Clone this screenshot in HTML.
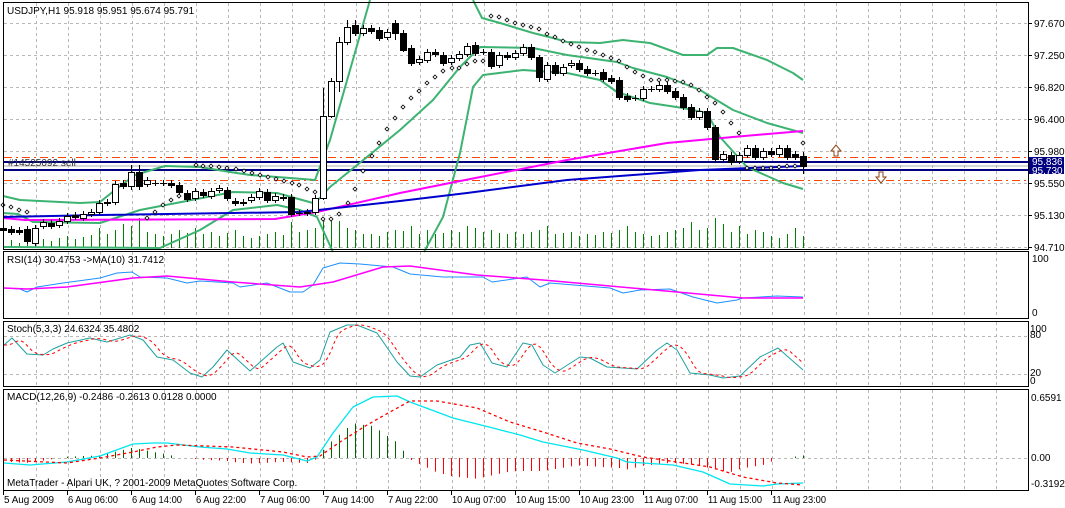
<!DOCTYPE html>
<html><head><meta charset="utf-8"><style>
html,body{margin:0;padding:0;background:#fff;}
svg{display:block;font-family:"Liberation Sans",sans-serif;font-size:10px;}
</style></head><body>
<svg id="s" width="1065" height="508" xmlns="http://www.w3.org/2000/svg">
<rect width="1065" height="508" fill="#fff"/>
<g id="grid"></g>
<g id="g"></g>
<g id="frames" fill="none" stroke="#000" stroke-width="1">
<rect x="3.5" y="2.5" width="1025" height="247"/>
<rect x="3.5" y="251.5" width="1025" height="67"/>
<rect x="3.5" y="321.5" width="1025" height="65"/>
<rect x="3.5" y="389.5" width="1025" height="101"/>
</g>
<g fill="#000">
<text x="7" y="14">USDJPY,H1  95.918 95.951 95.674 95.791</text>
<text x="7" y="263">RSI(14) 30.4753  -&gt;MA(10) 31.7412</text>
<text x="7" y="332">Stoch(5,3,3) 24.6324 35.4802</text>
<text x="7" y="400">MACD(12,26,9) -0.2486 -0.2613 0.0128 0.0000</text>
<text x="7" y="486">MetaTrader - Alpari UK, ? 2001-2009 MetaQuotes Software Corp.</text>
<text x="8" y="166" fill="#333">#14525092 sell</text>
</g>
<g id="ax" fill="#000"></g>
</svg>
<script>
var NS="http://www.w3.org/2000/svg";
function el(p,t,a,txt){var e=document.createElementNS(NS,t);for(var k in a)e.setAttribute(k,a[k]);if(txt!=null)e.textContent=txt;document.getElementById(p).appendChild(e);return e;}
function ln(p,x1,y1,x2,y2,c,w,d){var a={x1:x1,y1:y1,x2:x2,y2:y2,stroke:c,"stroke-width":w||1};if(d)a["stroke-dasharray"]=d;return el(p,"line",a);}
function pl(p,pts,c,w,d){var s=pts.map(function(q){return q[0]+","+q[1];}).join(" ");var a={points:s,fill:"none",stroke:c,"stroke-width":w||1,"stroke-linejoin":"round"};if(d)a["stroke-dasharray"]=d;return el(p,"polyline",a);}
function interp(pts,x){if(x<=pts[0][0])return pts[0][1];for(var i=1;i<pts.length;i++){if(x<=pts[i][0]){var a=pts[i-1],b=pts[i];return a[1]+(b[1]-a[1])*(x-a[0])/(b[0]-a[0]);}}return pts[pts.length-1][1];}
var gc="#b8b8b8";
for(var k=1;k<32;k++){var x=4+32*k;[[3,249],[252,318],[322,386],[390,490]].forEach(function(r){ln("grid",x+.5,r[0],x+.5,r[1],gc,1,"3,3");});}
var py=[[23,"97.670"],[55,"97.250"],[87,"96.820"],[119,"96.400"],[151,"95.980"],[183,"95.550"],[215,"95.130"],[247,"94.710"]];
py.forEach(function(p){ln("grid",4,p[0]+.5,1028,p[0]+.5,gc,1,"3,3");ln("ax",1029,p[0]+.5,1032,p[0]+.5,"#000",1);el("ax","text",{x:1034,y:p[0]+4},p[1]);});
ln("grid",4,336.5,1028,336.5,gc,1,"3,3");ln("grid",4,374.5,1028,374.5,gc,1,"3,3");ln("grid",4,458.5,1028,458.5,gc,1,"3,3");
[[262,"100"],[316,"0"]].forEach(function(p){el("ax","text",{x:1032,y:p[0]},p[1]);});
[[332,"100"],[338,"80"],[376,"20"],[384,"0"]].forEach(function(p){el("ax","text",{x:1030,y:p[0]},p[1]);});
[[401,"0.6591"],[461,"0.00"],[487,"-0.3192"]].forEach(function(p){el("ax","text",{x:1031,y:p[0]},p[1]);});
var tl=["5 Aug 2009","6 Aug 06:00","6 Aug 14:00","6 Aug 22:00","7 Aug 06:00","7 Aug 14:00","7 Aug 22:00","10 Aug 07:00","10 Aug 15:00","10 Aug 23:00","11 Aug 07:00","11 Aug 15:00","11 Aug 23:00"];
tl.forEach(function(t,i){var x=3+64*i;ln("ax",x+.5,491,x+.5,495,"#000",1);el("ax","text",{x:x+1,y:503,textLength:(t.length>11?54:50),lengthAdjust:"spacingAndGlyphs"},t);});
function hl(y,c,w,d){ln("g",4,y,1028,y,c,w,d);}
hl(157.5,"#FF4500",1,"8,4,2,4");hl(180.5,"#FF4500",1,"8,4,2,4");hl(166,"#b0b0b0",1);hl(162,"#000080",2);hl(170,"#000080",2);
el("g","path",{d:"M836 145 l-5 6 h3 v5 h4 v-5 h3 z",fill:"#fff",stroke:"#8B4513"});
el("g","path",{d:"M881 183 l-5 -6 h3 v-5 h4 v5 h3 z",fill:"#fff",stroke:"#8B4513"});
el("g","rect",{x:1029,y:157,width:35,height:17,fill:"#000080"});
el("g","text",{x:1032,y:165,fill:"#fff"},"95.836");el("g","text",{x:1032,y:174,fill:"#fff"},"95.730");
var vol=[6,8,5,10,12,9,7,10,12,9,11,13,20,14,18,24,22,30,16,14,12,14,18,15,20,14,16,12,15,18,12,10,12,14,16,13,26,16,18,20,28,30,27,20,18,14,14,12,16,18,17,22,14,18,14,15,18,16,22,20,16,18,15,14,16,14,16,18,22,14,15,16,12,14,13,16,15,18,22,16,14,12,13,16,18,20,26,18,20,30,24,16,22,14,18,16,12,10,14,20,12];
vol.forEach(function(h,i){var x=3+8*i+.5;ln("g",x,248,x,248-h,"#008000",1);});
var up=[[3,196],[20,200],[80,203],[100,202],[115,190],[135,175],[165,166],[200,167],[230,172],[250,175],[290,178],[315,180],[330,140],[370,0]];
var up2=[[473,0],[482,18],[500,23],[533,33],[553,38],[567,42],[600,43],[623,40],[650,43],[683,55],[707,55],[717,48],[733,48],[767,60],[793,73],[803,80]];
var mid=[[3,213],[18,214],[33,222],[100,223],[140,210],[233,192],[277,193],[313,203],[320,198],[330,187],[367,157],[400,130],[433,100],[460,67],[480,47],[533,48],[567,55],[617,62],[633,68],[667,77],[700,90],[733,110],[767,123],[803,133]];
var lo=[[3,247],[160,248],[200,230],[233,210],[277,205],[300,210],[317,217],[333,252]];
var lo2=[[424,252],[443,217],[460,153],[473,87],[483,75],[523,70],[567,73],[600,80],[617,92],[650,103],[683,108],[707,113],[720,137],[747,167],[783,183],[803,189]];
[up,up2,mid,lo,lo2].forEach(function(p){pl("g",p,"#3CB371",2);});
pl("g",[[3,218],[25,220],[275,219],[317,212],[400,193],[450,183],[567,160],[667,143],[733,137],[803,131]],"#FF00FF",2);
pl("g",[[3,217],[100,215],[300,212],[400,201],[467,193],[567,180],[633,175],[700,170],[803,166]],"#0000CD",2);
var C=[[228,230],[229,232],[230,232],[229,241],[243,228],[226,222],[223,226],[225,221],[221,216],[215,217],[218,214],[214,212],[212,203],[203,202],[202,184],[183,186],[186,172],[172,186],[184,180],[183,183],[183,183],[183,185],[185,192],[193,199],[198,191],[192,195],[196,191],[190,188],[190,198],[201,203],[202,203],[200,197],[197,191],[192,200],[200,196],[197,198],[197,214],[213,213],[213,212],[212,198],[198,116],[116,81],[81,42],[42,27],[25,33],[33,28],[28,31],[30,38],[37,32],[23,33],[33,50],[48,63],[62,59],[60,52],[52,54],[55,63],[62,58],[58,54],[54,46],[45,53],[52,52],[52,66],[65,55],[55,57],[57,53],[53,47],[47,57],[57,77],[79,65],[65,73],[73,67],[65,63],[63,69],[69,73],[73,73],[72,79],[78,81],[80,97],[96,99],[98,98],[98,89],[89,89],[89,85],[85,91],[91,97],[97,107],[107,117],[117,111],[111,127],[127,159],[159,154],[155,162],[161,155],[155,148],[148,157],[157,151],[151,154],[154,148],[148,157],[154,157],[156,166]];
var big={40:[88,200],41:[78,118],42:[37,92],43:[20,45],49:[20,40],50:[30,52],67:[55,82],89:[125,163],100:[152,174],44:[20,36],16:[165,190],17:[165,190]};
C.forEach(function(c,i){var x=3+8*i;var t=Math.min(c[0],c[1]),b=Math.max(c[0],c[1]);var hi=t-3,lw=b+3;if(big[i]){hi=big[i][0];lw=big[i][1];}
ln("g",x+.5,hi,x+.5,lw,"#000",1);
if(b-t<1){ln("g",x-3,t+.5,x+4,t+.5,"#000",1);}else el("g","rect",{x:x-2.5,y:t+.5,width:6,height:b-t,fill:c[1]>c[0]?"#000":"#fff",stroke:"#000","stroke-width":1});});
var sar=[[3,205],[11,207],[19,210],[27,212],[147,218],[155,212],[163,205],[171,200],[179,196],[196,165],[203,166],[211,166],[219,167],[227,168],[236,169],[244,171],[252,173],[260,175],[268,177],[276,179],[284,181],[292,183],[299,185],[307,189],[315,192],[323,219],[331,219],[339,214],[348,203],[355,189],[363,171],[372,156],[379,143],[387,129],[395,118],[403,107],[411,98],[419,91],[427,83],[435,77],[443,71],[452,68],[459,68],[467,64],[475,61],[483,61],[491,16],[499,17],[507,20],[515,23],[523,25],[531,27],[539,29],[547,34],[555,37],[563,41],[571,44],[579,47],[587,50],[595,52],[603,55],[611,58],[619,61],[627,67],[635,72],[643,76],[651,80],[659,80],[667,80],[675,81],[683,82],[691,85],[699,90],[707,97],[715,103],[723,112],[731,123],[739,133],[747,168],[755,168],[763,168],[771,168],[779,167],[787,166],[795,166],[803,143]];
sar.forEach(function(p){el("g","path",{d:"M"+p[0]+" "+(p[1]-2)+"l2 2l-2 2l-2 -2z",fill:"#fff",stroke:"#000","stroke-width":0.8});});
pl("g",[[4,288],[20,289],[27,292],[37,287],[63,283],[100,278],[117,273],[132,272],[140,277],[167,278],[187,283],[200,281],[233,283],[240,287],[267,283],[290,292],[303,292],[313,285],[323,268],[340,263],[360,264],[393,267],[410,274],[443,277],[483,277],[492,282],[527,277],[540,287],[550,283],[610,288],[623,293],[640,290],[670,289],[693,297],[717,303],[737,300],[743,298],[777,296],[803,297]],"#1E90FF",1);
pl("g",[[4,288],[27,289],[67,287],[133,278],[167,276],[233,282],[300,287],[333,282],[383,267],[410,266],[477,275],[543,280],[610,286],[677,292],[743,298],[803,298]],"#FF00FF",1.5);
var st=[[4,345],[12,338],[27,354],[43,355],[53,349],[67,343],[90,338],[107,342],[130,335],[143,340],[157,357],[173,360],[190,373],[202,377],[213,367],[227,350],[250,371],[277,347],[283,343],[293,362],[310,368],[320,360],[330,332],[347,325],[357,325],[377,333],[397,362],[410,376],[420,377],[437,365],[460,357],[470,345],[480,343],[492,363],[507,367],[523,343],[532,345],[543,365],[555,373],[580,357],[590,358],[607,367],[637,369],[657,350],[667,343],[677,350],[690,373],[710,375],[723,378],[740,376],[760,357],[778,348],[803,370]];
pl("g",st,"#20A0A0",1);
var sg=[];for(var x=4;x<=803;x+=2){var v=(interp(st,x-4)+interp(st,x-8)+interp(st,x-12))/3;sg.push([x,v.toFixed(1)]);}
pl("g",sg,"#FF0000",1,"3,3");
var mm=[[4,463],[30,465],[67,462],[100,456],[133,444],[153,443],[167,443],[200,447],[227,449],[250,453],[283,455],[307,461],[317,457],[333,433],[353,407],[373,397],[397,396],[410,402],[437,412],[453,418],[493,428],[520,435],[543,442],[583,450],[617,458],[627,462],[673,465],[703,472],[730,484],[763,486],[777,484],[803,483]];
var ms=[[4,460],[67,463],[100,458],[133,452],[157,447],[177,445],[233,447],[283,452],[307,457],[320,456],[340,442],[367,425],[390,412],[410,401],[437,401],[477,408],[510,422],[543,432],[577,443],[610,449],[643,457],[677,462],[710,467],[743,477],[777,483],[803,485]];
for(var i=0;i<=100;i++){var x=3+8*i+.5;var d=(interp(ms,x)-interp(mm,x))*1.3;if(Math.abs(d)<1)continue;ln("g",x,458,x,458-d,d>0?"#006400":"#FF0000",1);}
pl("g",mm,"#00E5EE",1.3);
pl("g",ms,"#FF0000",1.3,"3,3");
</script>
</body></html>
